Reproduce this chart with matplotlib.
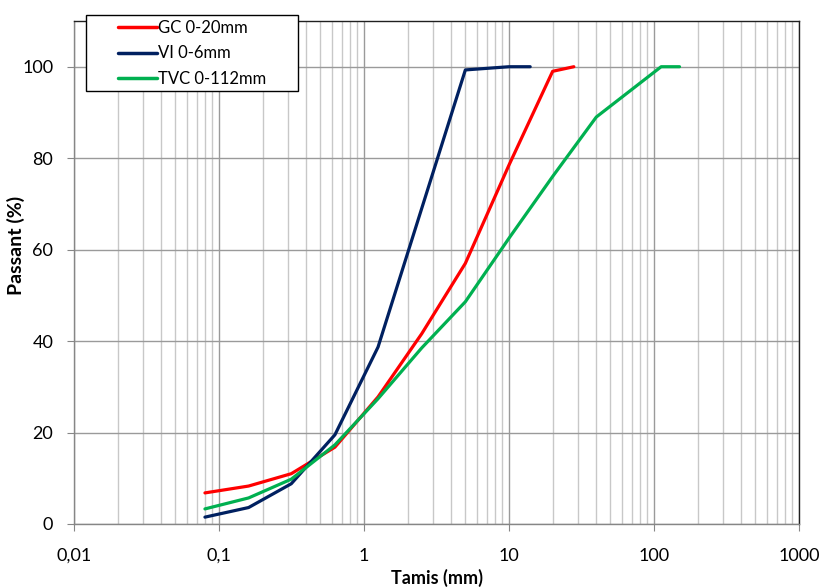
import matplotlib
matplotlib.use("Agg")
import matplotlib.pyplot as plt
from matplotlib.patches import Rectangle
from matplotlib.ticker import FixedLocator, FuncFormatter, LogLocator, NullFormatter

plt.rcParams["font.family"] = ["Lato", "DejaVu Sans"]

# sieve sizes (mm) and passing (%)
gc_size = [0.08, 0.16, 0.315, 0.63, 1.25, 2.5, 5, 10, 20, 28]
gc_pass = [6.8, 8.3, 11.0, 16.8, 27.8, 41.6, 57.0, 78.5, 99.0, 100.0]

vi_size = [0.08, 0.16, 0.315, 0.63, 1.25, 5, 10, 14]
vi_pass = [1.5, 3.6, 8.8, 19.5, 38.7, 99.3, 100.0, 100.0]

tvc_size = [0.08, 0.16, 0.315, 0.63, 1.25, 2.5, 5, 10, 20, 40, 112, 150]
tvc_pass = [3.3, 5.7, 9.8, 17.3, 27.4, 38.5, 48.6, 62.5, 76.0, 89.0, 100.0, 100.0]

series = [
    ("GC 0-20mm", gc_size, gc_pass, "#FF0000"),
    ("VI 0-6mm", vi_size, vi_pass, "#002060"),
    ("TVC 0-112mm", tvc_size, tvc_pass, "#00B050"),
]

W, H = 821, 588
fig = plt.figure(figsize=(W / 100, H / 100), dpi=100)
ax = fig.add_axes([74 / W, 64 / H, 725 / W, 503 / H])

for label, x, y, c in series:
    ax.plot(x, y, color=c, lw=2.3, label=label, solid_capstyle="round",
            solid_joinstyle="round", zorder=3)

ax.set_xscale("log")
ax.set_xlim(0.01, 1000)
ax.set_ylim(0, 110)
ax.yaxis.set_major_locator(FixedLocator([0, 20, 40, 60, 80, 100]))
ax.xaxis.set_major_locator(LogLocator(base=10, numticks=10))
ax.xaxis.set_minor_locator(LogLocator(base=10, subs=range(2, 10), numticks=100))
ax.xaxis.set_minor_formatter(NullFormatter())
ax.xaxis.set_major_formatter(FuncFormatter(
    lambda v, _: ("%g" % v).replace(".", ",")))

ax.grid(True, which="major", axis="both", color="#9A9A9A", lw=1.0, zorder=1)
ax.grid(True, which="minor", axis="x", color="#C8C8C8", lw=1.0, zorder=1)
ax.set_axisbelow(True)

for s in ("left", "bottom"):
    ax.spines[s].set_color("#868686")
    ax.spines[s].set_linewidth(1.0)
for s in ("top", "right"):
    ax.spines[s].set_color("#202020")
    ax.spines[s].set_linewidth(1.0)

ax.tick_params(which="major", direction="out", length=5, color="#868686",
               labelsize=13)
ax.tick_params(axis="x", which="major", pad=12)
ax.tick_params(axis="y", which="major", pad=10)
ax.tick_params(which="minor", length=0)

ax.set_xlabel("Tamis (mm)", fontsize=13, fontweight="bold", labelpad=4)
ax.set_ylabel("Passant (%)", fontsize=14, fontweight="bold")
ax.yaxis.set_label_coords(-0.067, 0.553)

# legend box (frame drawn separately so the entries sit centred in it)
fig.patches.append(Rectangle((86 / W, 1 - 91 / H), 212 / W, 76 / H,
                             transform=fig.transFigure, facecolor="white",
                             edgecolor="black", lw=1.0, zorder=4))
leg = fig.legend(loc="upper left", bbox_to_anchor=(118 / W, 1 - 20 / H),
                 fontsize=12, frameon=False,
                 handlelength=2.35, handletextpad=0.05, labelspacing=0.56,
                 borderpad=0, borderaxespad=0)
leg.set_zorder(5)
for h in leg.get_lines():
    h.set_linewidth(2.5)

fig.savefig("out.png", dpi=100)
